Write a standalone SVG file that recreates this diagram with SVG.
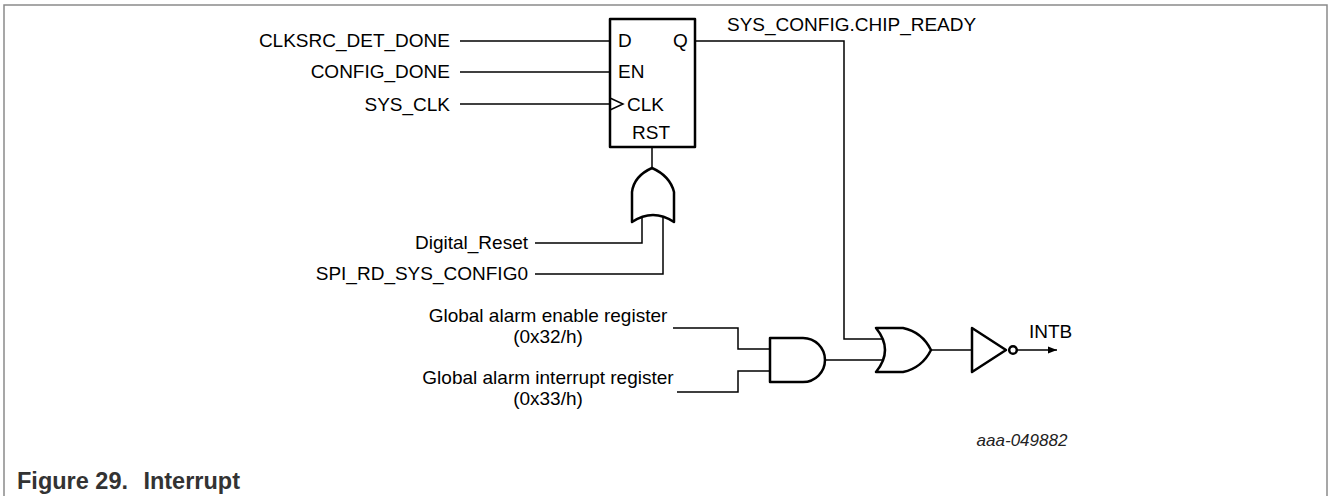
<svg xmlns="http://www.w3.org/2000/svg" width="1328" height="496" viewBox="0 0 1328 496">
<style>
.t{font-family:"Liberation Sans",Arial,sans-serif;font-size:19px;fill:#000}
.e{text-anchor:end}
.m{text-anchor:middle}
.w{fill:none;stroke:#000;stroke-width:1.5}
.g{fill:#fff;stroke:#000;stroke-width:2.5;stroke-linejoin:round}
.frame{fill:none;stroke:#8a8a8a;stroke-width:1.5}
.cap{font-family:"Liberation Sans",Arial,sans-serif;font-size:23.5px;font-weight:bold;fill:#333}
</style>
<defs>
<marker id="arr" markerWidth="10" markerHeight="8" refX="9" refY="4" orient="auto" markerUnits="userSpaceOnUse">
<path d="M0,0.5 L9,4 L0,7.5 Z" fill="#000"/>
</marker>
</defs>
<rect width="1328" height="496" fill="#fff"/>
<path class="frame" d="M4,496 V5 H1327 V496"/>

<g id="connectors">
<path class="w" d="M460,41 H610"/>
<path class="w" d="M460,72 H610"/>
<path class="w" d="M460,104 H610"/>
<path class="w" d="M695,41 H844 V339 H883"/>
<path class="w" d="M652,147 V168"/>
<path class="w" d="M535,243 H642 V216"/>
<path class="w" d="M535,274 H663 V216"/>
<path class="w" d="M673,328 H738 V349 H770"/>
<path class="w" d="M677,392 H738 V371 H770"/>
<path class="w" d="M825,360 H883"/>
<path class="w" d="M931,350 H972"/>
<path class="w" d="M1016.5,350 H1057" marker-end="url(#arr)"/>
</g>

<g id="labels-in">
<text class="t e" x="450" y="47">CLKSRC_DET_DONE</text>
<text class="t e" x="450" y="78">CONFIG_DONE</text>
<text class="t e" x="450" y="111">SYS_CLK</text>
<text class="t e" x="528" y="249">Digital_Reset</text>
<text class="t e" x="528" y="280">SPI_RD_SYS_CONFIG0</text>
<text class="t m" x="548" y="322">Global alarm enable register</text>
<text class="t m" x="548" y="343">(0x32/h)</text>
<text class="t m" x="548" y="384">Global alarm interrupt register</text>
<text class="t m" x="548" y="405">(0x33/h)</text>
<text class="t" x="727" y="31">SYS_CONFIG.CHIP_READY</text>
<text class="t" x="1029" y="338">INTB</text>
</g>

<g id="dff">
<rect class="g" x="610" y="19" width="85" height="128"/>
<path class="w" d="M610,98 L623,104 L610,110"/>
<text class="t" x="618" y="47">D</text>
<text class="t" x="673" y="47">Q</text>
<text class="t" x="618" y="78">EN</text>
<text class="t" x="627" y="111">CLK</text>
<text class="t" x="632" y="139">RST</text>
</g>

<g id="or-rst">
<path class="g" d="M632,222 L632,192 Q634,176 652,168 Q670,176 674,192 L674,222 Q653,208 632,222 Z"/>
</g>

<g id="and-gate">
<path class="g" d="M770,338 L803,338 A22,22 0 0 1 803,382 L770,382 Z"/>
</g>

<g id="or-out">
<path class="g" d="M876,328 L903,328 Q922,332 931,350 Q922,368 903,372 L876,372 Q894,350 876,328 Z"/>
</g>

<g id="inverter">
<path class="g" d="M972,328 L1006,350 L972,372 Z"/>
<circle class="g" cx="1013" cy="350" r="3.8" stroke-width="2"/>
</g>

<text x="1022" y="446" font-family="Liberation Sans,Arial,sans-serif" font-size="17" font-style="italic" fill="#222" text-anchor="middle">aaa-049882</text>
<text class="cap" x="17" y="489">Figure 29.</text>
<text class="cap" x="240" y="489" text-anchor="end">Interrupt</text>
</svg>
